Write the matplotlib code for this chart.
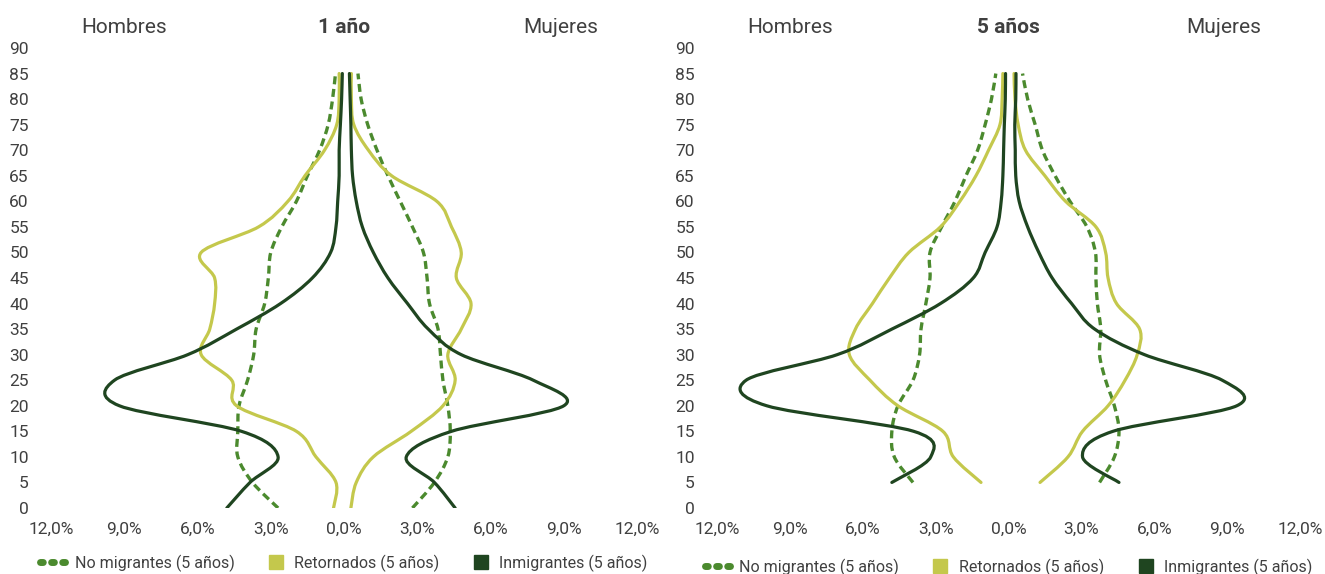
"""Pirámides de población por condición migratoria (1 año / 5 años)."""

import numpy as np
import matplotlib
matplotlib.use("Agg")
import matplotlib.pyplot as plt
from matplotlib.path import Path
from matplotlib.patches import PathPatch
from matplotlib.lines import Line2D

plt.rcParams["font.family"] = ["Roboto", "DejaVu Sans"]

# ---- data (porcentajes) ----
ages_1 = [0, 5, 10, 15, 20, 25, 30, 35, 40, 45, 50, 55, 60, 65, 70, 75, 80, 85]
ages_5 = [5, 10, 15, 20, 25, 30, 35, 40, 45, 50, 55, 60, 65, 70, 75, 80, 85]

# 1 año - hombres
nomig_h1 = [2.7, 3.75, 4.35, 4.35, 4.3, 3.95, 3.7, 3.6, 3.25, 3.1, 3.0, 2.55, 1.95, 1.5, 1.0, 0.65, 0.47, 0.35]
retor_h1 = [0.43, 0.33, 1.15, 1.95, 4.4, 4.6, 5.85, 5.5, 5.3, 5.3, 5.85, 3.5, 2.3, 1.6, 0.8, 0.3, 0.2, 0.2]
inmig_h1 = [4.8, 3.85, 2.7, 4.2, 9.2, 9.4, 6.4, 4.4, 2.6, 1.3, 0.55, 0.33, 0.26, 0.2, 0.2, 0.15, 0.1, 0.07]
# 1 año - mujeres
nomig_m1 = [2.8, 3.7, 4.25, 4.35, 4.25, 4.05, 3.95, 3.85, 3.5, 3.4, 3.25, 2.8, 2.3, 1.8, 1.35, 0.97, 0.7, 0.57]
retor_m1 = [0.28, 0.5, 1.2, 2.75, 4.05, 4.55, 4.25, 4.8, 5.2, 4.6, 4.8, 4.4, 3.8, 1.95, 1.0, 0.4, 0.3, 0.3]
inmig_m1 = [4.55, 3.7, 2.55, 4.4, 9.0, 7.75, 4.8, 3.45, 2.6, 1.8, 1.2, 0.75, 0.5, 0.35, 0.3, 0.28, 0.25, 0.22]

# 5 años - hombres
nomig_h5 = [3.93, 4.7, 4.8, 4.55, 3.93, 3.66, 3.6, 3.4, 3.23, 3.23, 2.75, 2.2, 1.75, 1.27, 0.96, 0.7, 0.52]
retor_h5 = [1.13, 2.27, 2.7, 4.55, 5.7, 6.55, 6.3, 5.6, 4.9, 4.1, 2.8, 2.0, 1.34, 0.82, 0.35, 0.26, 0.23]
inmig_h5 = [4.8, 3.2, 3.9, 9.95, 10.8, 7.05, 4.8, 2.8, 1.45, 0.96, 0.47, 0.3, 0.23, 0.2, 0.17, 0.13, 0.12]
# 5 años - mujeres
nomig_m5 = [3.75, 4.36, 4.55, 4.36, 4.0, 3.75, 3.8, 3.66, 3.6, 3.58, 3.23, 2.53, 1.92, 1.4, 1.1, 0.79, 0.58]
retor_m5 = [1.3, 2.45, 3.05, 4.1, 4.8, 5.3, 5.4, 4.45, 4.1, 4.0, 3.6, 2.35, 1.5, 0.7, 0.4, 0.27, 0.23]
inmig_m5 = [4.55, 3.05, 4.3, 9.4, 8.8, 5.6, 3.55, 2.6, 1.8, 1.25, 0.79, 0.44, 0.3, 0.28, 0.26, 0.3, 0.31]

xticks = [-12, -9, -6, -3, 0, 3, 6, 9, 12]
xtick_labels = ["12,0%", "9,0%", "6,0%", "3,0%", "0,0%", "3,0%", "6,0%", "9,0%", "12,0%"]
yticks = list(range(0, 91, 5))
series_names = ["No migrantes (5 años)", "Retornados (5 años)", "Inmigrantes (5 años)"]

C_NOMIG = "#4b8a2e"
C_RETOR = "#c4c84c"
C_INMIG = "#1f4520"
TXT = "#404040"


def smooth_path(x, y):
    """Bezier path through the points (Excel-style smoothed line)."""
    pts = np.column_stack([x, y]).astype(float)
    n = len(pts)
    verts = [pts[0]]
    codes = [Path.MOVETO]
    for i in range(n - 1):
        p0 = pts[i - 1] if i > 0 else pts[i]
        p1, p2 = pts[i], pts[i + 1]
        p3 = pts[i + 2] if i + 2 < n else pts[i + 1]
        c1 = p1 + (p2 - p0) / 6.0
        c2 = p2 - (p3 - p1) / 6.0
        verts += [c1, c2, p2]
        codes += [Path.CURVE4] * 3
    return Path(verts, codes)


def draw_line(ax, vals, ages, color, dashed=False):
    style = dict(fill=False, edgecolor=color, linewidth=2.3, capstyle="round")
    if dashed:
        style["linewidth"] = 2.4
        style["capstyle"] = "butt"
        style["linestyle"] = (0, (2.4, 1.4))
    ax.add_patch(PathPatch(smooth_path(vals, ages), **style))


def panel(ax, ages, h_series, m_series, title, legend_y):
    colors = [C_NOMIG, C_RETOR, C_INMIG]
    for k, (h, m) in enumerate(zip(h_series, m_series)):
        draw_line(ax, [-v for v in h], ages, colors[k], dashed=(k == 0))
        draw_line(ax, m, ages, colors[k], dashed=(k == 0))

    ax.set_xlim(-12, 12)
    ax.set_ylim(0, 90)
    ax.set_xticks(xticks)
    ax.set_xticklabels(xtick_labels)
    ax.set_yticks(yticks)
    for s in ax.spines.values():
        s.set_visible(False)
    ax.tick_params(axis="both", length=0, labelsize=12.5, colors=TXT)
    ax.tick_params(axis="y", pad=16)
    ax.tick_params(axis="x", pad=10)

    ax.text(0.125, 1.045, "Hombres", transform=ax.transAxes, ha="center",
            va="center", fontsize=15, color=TXT)
    ax.text(0.5, 1.045, title, transform=ax.transAxes, ha="center",
            va="center", fontsize=15, color=TXT, fontweight="bold")
    ax.text(0.87, 1.045, "Mujeres", transform=ax.transAxes, ha="center",
            va="center", fontsize=15, color=TXT)

    handles = [
        Line2D([], [], color=C_NOMIG, linewidth=5, linestyle=(0, (0.4, 1.2)),
               dash_capstyle="round"),
        Line2D([], [], color=C_RETOR, marker="s", markersize=9.5, linestyle="none"),
        Line2D([], [], color=C_INMIG, marker="s", markersize=9.5, linestyle="none"),
    ]
    leg = ax.legend(handles, series_names, loc="center", ncol=3,
                    bbox_to_anchor=(0.5, legend_y), frameon=False, fontsize=11.5,
                    handlelength=2.0, handletextpad=0.15, columnspacing=1.6,
                    borderpad=0.1)
    for t in leg.get_texts():
        t.set_color(TXT)


fig = plt.figure(figsize=(13.25, 5.74), dpi=100)
ax1 = fig.add_axes([0.0385, 0.115, 0.4423, 0.8014])
ax2 = fig.add_axes([0.5411, 0.115, 0.4400, 0.8014])

panel(ax1, ages_1, [nomig_h1, retor_h1, inmig_h1], [nomig_m1, retor_m1, inmig_m1],
      "1 año", -0.12)
panel(ax2, ages_5, [nomig_h5, retor_h5, inmig_h5], [nomig_m5, retor_m5, inmig_m5],
      "5 años", -0.128)

fig.savefig("out.png", dpi=100)
